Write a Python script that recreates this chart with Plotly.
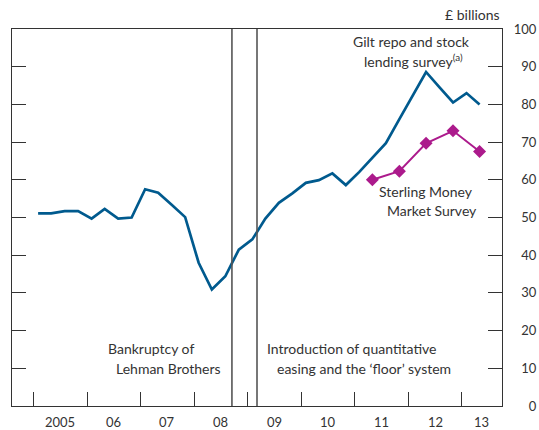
import plotly.graph_objects as go

# Quarterly gilt repo and stock lending survey, 2005 Q1 to 2013 Q2 (£ billions)
gilt_quarters = [f"{year}-{month:02d}-01" for year in range(2005, 2014) for month in (2, 5, 8, 11)][:34]
gilt_repo = [51.1, 51.1, 51.7, 51.7, 49.7, 52.3, 49.7, 50.0,
             57.5, 56.6, 53.4, 50.1, 38.0, 30.9, 34.4, 41.5,
             44.2, 49.7, 53.9, 56.4, 59.2, 59.9, 61.7, 58.6,
             62.1, 65.8, 69.7, 76.1, 82.4, 88.6, 84.5, 80.5,
             83.0, 80.0]

# Sterling Money Market Survey, half-yearly
smms_dates = ["2011-05-01", "2011-11-01", "2012-05-01", "2012-11-01", "2013-05-01"]
smms_values = [60.0, 62.3, 69.7, 73.0, 67.5]

# Event lines: Lehman bankruptcy, start of QE
event_dates = ["2008-09-15", "2009-03-05"]

# Axis labels
year_ticks = [f"{y}-01-01" for y in range(2005, 2014)]
year_label_pos = ["2005-07-02", "2006-07-02", "2007-07-02", "2008-07-02", "2009-07-02",
                  "2010-07-02", "2011-07-02", "2012-07-02", "2013-05-16"]
year_labels = ["2005", "06", "07", "08", "09", "10", "11", "12", "13"]
y_ticks = list(range(0, 101, 10))

BLUE = "#005A8E"
MAGENTA = "#AC1A8C"
TEXT = "#333333"
FONT = "Lato"

W, H = 539, 430
L, R, T, B = 12, 37, 29, 24


def px_x(x):
    return (x - L) / (W - L - R)


def px_y(y):
    return (H - B - y) / (H - T - B)


fig = go.Figure()
fig.add_trace(go.Scatter(x=gilt_quarters, y=gilt_repo, mode="lines",
                         line=dict(color=BLUE, width=2.7), showlegend=False))
fig.add_trace(go.Scatter(x=smms_dates, y=smms_values, mode="lines+markers",
                         line=dict(color=MAGENTA, width=2),
                         marker=dict(symbol="diamond", size=10, color=MAGENTA),
                         showlegend=False))

for d in event_dates:
    fig.add_shape(type="line", xref="x", yref="paper", x0=d, x1=d, y0=0, y1=1,
                  line=dict(color="#555555", width=1.6))

# year labels sit in the middle of each year
for pos, lab in zip(year_label_pos, year_labels):
    fig.add_annotation(x=pos, xref="x", y=px_y(422), yref="paper", text=lab,
                       showarrow=False, xanchor="center", yanchor="middle",
                       font=dict(size=13, color=TEXT))

# text labels (one annotation per line to keep the original staggering)
labels = [
    ("£ billions", 502, 15, "right"),
    ("Gilt repo and stock", 411, 41, "center"),
    ("lending survey<sup>(a)</sup>", 413, 60, "center"),
    ("Sterling Money", 426, 191, "center"),
    ("Market Survey", 432, 210, "center"),
    ("Bankruptcy of", 151, 348, "center"),
    ("Lehman Brothers", 168, 368, "center"),
    ("Introduction of quantitative", 351, 348, "center"),
    ("easing and the ‘floor’ system", 364, 368, "center"),
]
for text, x, y, anchor in labels:
    fig.add_annotation(x=px_x(x), xref="paper", y=px_y(y), yref="paper", text=text,
                       showarrow=False, xanchor=anchor, yanchor="middle",
                       font=dict(size=14, color=TEXT))

fig.update_layout(
    width=W, height=H,
    margin=dict(l=L, r=R, t=T, b=B),
    paper_bgcolor="white", plot_bgcolor="white",
    font=dict(family=FONT, size=13, color=TEXT),
    showlegend=False,
)
fig.update_xaxes(
    type="date", range=["2004-08-07", "2013-10-01"],
    tickvals=year_ticks, showticklabels=False,
    ticks="inside", ticklen=14, tickcolor="#333333", tickwidth=1.2,
    showline=True, linecolor="#333333", linewidth=1.3, mirror=True,
    showgrid=False, zeroline=False, automargin=False,
)
fig.update_yaxes(
    range=[0, 100], side="right",
    tickvals=y_ticks, ticktext=[str(v).rjust(3, "\u2007") for v in y_ticks],
    ticks="inside", ticklen=14, tickcolor="#333333", tickwidth=1.2,
    ticklabelstandoff=8,
    showline=True, linecolor="#333333", linewidth=1.3, mirror="ticks",
    showgrid=False, zeroline=False, automargin=False,
)

# drop the browser's default body margin so the chart sits at the page origin
fig.write_html("out.html", config={"displayModeBar": False},
               post_script="document.body.style.margin = '0';")
